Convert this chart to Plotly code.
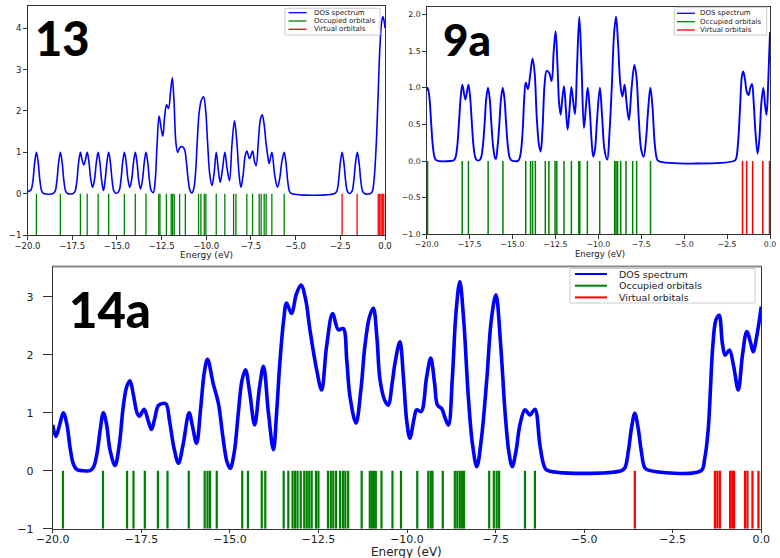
import plotly.graph_objects as go

W, H = 780, 558

# ---------------- data: panel "13" ----------------
occ13 = [-19.50, -18.16, -17.04, -16.66, -16.05, -15.46, -14.58, -13.97, -13.37,
         -12.66, -12.59, -12.23, -11.96, -11.88, -11.79, -11.49, -11.17, -10.43,
         -10.30, -10.11, -10.02, -9.44, -8.96, -8.47, -8.34, -7.73, -7.41, -7.04,
         -6.93, -6.76, -6.65, -6.33, -5.64]
virt13 = [-2.40, -1.56, -0.38, -0.30, -0.22, -0.15, -0.07]
dos13_e = [-20.0, -19.9, -19.8, -19.7, -19.6, -19.5, -19.4, -19.3, -19.2, -19.1,
           -18.6, -18.46, -18.36, -18.26, -18.16, -18.06, -17.96, -17.86, -17.76,
           -17.5, -17.44, -17.34, -17.24, -17.14, -17.04, -16.95, -16.85, -16.76,
           -16.66, -16.56, -16.46, -16.36, -16.25, -16.15, -16.05, -15.95, -15.85,
           -15.75, -15.66, -15.56, -15.46, -15.36, -15.26, -15.16, -15.03, -14.88,
           -14.78, -14.68, -14.58, -14.48, -14.38, -14.28, -14.17, -14.07, -13.97,
           -13.87, -13.78, -13.68, -13.57, -13.47, -13.37, -13.27, -13.17, -13.07,
           -12.96, -12.86, -12.75, -12.64, -12.53, -12.43, -12.32, -12.22, -12.11,
           -12.0, -11.9, -11.8, -11.7, -11.6, -11.5, -11.4, -11.3, -11.2, -11.1,
           -11.0, -10.9, -10.8, -10.7, -10.6, -10.5, -10.4, -10.28, -10.15, -10.03,
           -9.92, -9.8, -9.68, -9.56, -9.44, -9.33, -9.22, -9.09, -8.96, -8.83,
           -8.70, -8.56, -8.42, -8.28, -8.16, -8.06, -7.94, -7.83, -7.73, -7.58,
           -7.41, -7.30, -7.21, -7.08, -6.97, -6.87, -6.77, -6.66, -6.57, -6.48,
           -6.33, -6.17, -6.02, -5.9, -5.76, -5.64, -5.54, -5.44, -5.34, -5.24,
           -2.85, -2.70, -2.60, -2.50, -2.40, -2.30, -2.20, -2.10, -2.0, -1.85,
           -1.75, -1.65, -1.55, -1.45, -1.35, -1.25, -1.15, -0.85, -0.72, -0.62,
           -0.5, -0.4, -0.3, -0.2, -0.12, -0.04, 0.0]
dos13_v = [0.05, 0.07, 0.1, 0.3, 0.75, 1.0, 0.75, 0.3, 0.06, 0.01,
           0.0, 0.06, 0.3, 0.75, 1.0, 0.75, 0.3, 0.06, 0.01,
           0.0, 0.01, 0.06, 0.3, 0.76, 1.0, 0.82, 0.7, 0.82,
           1.0, 0.76, 0.35, 0.16, 0.35, 0.76, 1.0, 0.75, 0.32,
           0.08, 0.32, 0.75, 1.0, 0.75, 0.3, 0.06, 0.01, 0.07,
           0.3, 0.75, 1.0, 0.76, 0.35, 0.16, 0.35, 0.76, 1.0,
           0.75, 0.33, 0.12, 0.33, 0.75, 1.0, 0.75, 0.3, 0.07,
           0.03, 0.3, 1.2, 1.88, 1.6, 1.39, 1.9, 2.15, 2.06,
           2.45, 2.8, 2.2, 1.25, 1.0, 1.1, 1.14, 1.13, 1.05, 0.72,
           0.3, 0.07, 0.02, 0.12, 0.5, 1.3, 1.95, 2.25, 2.34, 2.0,
           1.2, 0.45, 0.2, 0.5, 1.0, 0.6, 0.28, 0.6, 1.0, 0.6,
           0.32, 1.2, 1.76, 1.2, 0.45, 0.16, 0.45, 0.9, 1.03, 0.85,
           1.03, 0.78, 0.68, 1.3, 1.8, 1.91, 1.7, 1.25, 0.95, 0.73,
           1.0, 0.45, 0.16, 0.35, 0.8, 1.0, 0.75, 0.3, 0.06, 0.01,
           0.0, 0.06, 0.3, 0.75, 1.0, 0.75, 0.3, 0.06, 0.01, 0.06,
           0.3, 0.75, 1.0, 0.75, 0.3, 0.06, 0.01, 0.0, 0.05, 0.3,
           1.1, 2.2, 3.4, 4.1, 4.28, 4.15, 4.0]

# ---------------- data: panel "9a" ----------------
occ9a = [-19.95, -17.93, -17.57, -16.42, -15.56, -14.23, -13.95, -13.83, -13.67,
         -13.09, -12.88, -12.52, -12.42, -12.00, -11.57, -11.14, -11.08, -10.64,
         -9.92, -9.05, -8.97, -8.88, -8.70, -8.39, -8.00, -7.77, -6.96]
virt9a = [-1.60, -1.36, -1.01, -0.42, -0.03]
dos9a_e = [-20.0, -19.94, -19.84, -19.74, -19.64, -19.54, -19.44, -18.6, -18.42,
           -18.32, -18.22, -18.12, -18.02, -17.92, -17.75, -17.57, -17.47, -17.37,
           -17.27, -17.17, -17.07, -16.93, -16.83, -16.73, -16.63, -16.53, -16.43,
           -16.33, -16.23, -16.13, -16.02, -15.97, -15.87, -15.77, -15.67, -15.57,
           -15.47, -15.37, -15.27, -15.17, -15.07, -14.7, -14.6, -14.5, -14.4,
           -14.32, -14.23, -14.1, -13.96, -13.83, -13.71, -13.59, -13.46, -13.36,
           -13.25, -13.13, -13.01, -12.86, -12.72, -12.6, -12.49, -12.38, -12.29,
           -12.2, -12.1, -12.0, -11.89, -11.79, -11.68, -11.57, -11.46, -11.36,
           -11.24, -11.11, -10.98, -10.84, -10.72, -10.62, -10.5, -10.4, -10.3,
           -10.2, -10.08, -9.91, -9.78, -9.64, -9.48, -9.36, -9.22, -9.08, -8.97,
           -8.85, -8.72, -8.6, -8.47, -8.36, -8.22, -8.06, -7.9, -7.78, -7.65,
           -7.5, -7.36, -7.22, -7.1, -6.97, -6.85, -6.72, -6.6, -6.5, -2.1, -1.98,
           -1.86, -1.75, -1.64, -1.56, -1.46, -1.36, -1.25, -1.15, -1.05, -0.95,
           -0.85, -0.72, -0.62, -0.5, -0.39, -0.28, -0.2, -0.1, 0.0]
dos9a_v = [0.96, 1.0, 0.86, 0.52, 0.2, 0.05, 0.01, 0.0, 0.01,
           0.05, 0.2, 0.52, 0.87, 1.04, 0.84, 1.04, 0.87, 0.52,
           0.2, 0.05, 0.01, 0.01, 0.05, 0.2, 0.5, 0.85, 1.0,
           0.85, 0.5, 0.2, 0.04, 0.03, 0.2, 0.5, 0.85, 1.0,
           0.85, 0.5, 0.2, 0.05, 0.01, 0.0, 0.03, 0.15, 0.45,
           0.85, 1.07, 0.98, 1.2, 1.40, 1.2, 0.6, 0.22, 0.13,
           0.45, 1.05, 1.23, 1.20, 1.09, 1.5, 1.77, 1.3, 0.8,
           0.63, 0.85, 1.02, 0.7, 0.43, 0.7, 1.01, 0.8, 0.64,
           1.3, 1.97, 1.3, 0.45, 0.75, 1.0, 0.7, 0.3, 0.06,
           0.15, 0.55, 1.0, 0.6, 0.15, 0.02, 0.35, 1.0, 1.75, 1.97,
           1.6, 1.05, 0.88, 1.04, 0.8, 0.56, 1.0, 1.31, 1.15, 0.6,
           0.15, 0.06, 0.3, 0.7, 1.0, 0.75, 0.25, 0.04, 0.0, 0.0, 0.03,
           0.25, 0.7, 1.15, 1.22, 1.12, 0.95, 0.9, 1.0, 1.05, 0.8,
           0.4, 0.1, 0.3, 0.8, 1.0, 0.75, 0.63, 1.1, 1.76]

# ---------------- data: panel "14a" ----------------
occ14a = [-19.71, -18.58, -17.90, -17.72, -17.40, -17.03, -16.76, -16.16, -15.71,
          -15.63, -15.56, -15.37, -14.65, -14.49, -14.10, -14.00, -13.48, -13.35,
          -13.23, -13.16, -13.09, -13.00, -12.90, -12.83, -12.76, -12.69, -12.57,
          -12.50, -12.23, -12.15, -12.08, -12.00, -11.89, -11.81, -11.74, -11.66,
          -11.28, -11.05, -10.99, -10.93, -10.88, -10.72, -10.41, -10.17, -9.71,
          -9.40, -9.33, -9.28, -8.99, -8.65, -8.58, -8.51, -8.45, -8.39, -7.68,
          -7.55, -7.47, -7.40, -6.67, -6.39]
virt14a = [-3.57, -1.31, -1.24, -1.17, -0.88, -0.82, -0.77, -0.46, -0.39, -0.25, -0.08]
dos14a_e = [-20.0, -19.91, -19.8, -19.7, -19.6, -19.51, -19.42, -19.32, -19.15, -18.95,
            -18.85, -18.75, -18.66, -18.57, -18.48, -18.38, -18.24, -18.12, -18.01,
            -17.91, -17.82, -17.72, -17.62, -17.55, -17.42, -17.3, -17.21, -17.12,
            -17.02, -16.9, -16.8, -16.7, -16.58, -16.45, -16.32, -16.15, -16.05,
            -15.94, -15.82, -15.72, -15.63, -15.47, -15.32, -15.2, -15.08, -14.99,
            -14.88, -14.76, -14.66, -14.56, -14.44, -14.3, -14.16, -14.05, -13.91,
            -13.77, -13.68, -13.59, -13.48, -13.4, -13.26, -13.12, -12.99, -12.86,
            -12.74, -12.55, -12.41, -12.27, -12.1, -11.94, -11.8, -11.7, -11.61,
            -11.44, -11.3, -11.19, -11.06, -10.95, -10.85, -10.76, -10.62, -10.53,
            -10.42, -10.34, -10.2, -10.1, -10.01, -9.92, -9.8, -9.73, -9.6, -9.45,
            -9.33, -9.22, -9.14, -9.02, -8.92, -8.83, -8.72, -8.62, -8.51, -8.4,
            -8.27, -8.15, -8.03, -7.9, -7.75, -7.62, -7.49, -7.36, -7.23, -7.12,
            -7.03, -6.92, -6.81, -6.67, -6.53, -6.39, -6.25, -6.14, -6.05, -3.95,
            -3.85, -3.75, -3.66, -3.57, -3.48, -3.39, -3.29, -3.19, -1.7, -1.6,
            -1.5, -1.37, -1.28, -1.19, -1.1, -1.02, -0.9, -0.78, -0.65, -0.53,
            -0.41, -0.3, -0.23, -0.12, 0.0]
dos14a_v = [0.79, 0.59, 0.8, 1.0, 0.8, 0.4, 0.12, 0.02, 0.0, 0.0,
            0.06, 0.3, 0.7, 1.0, 0.8, 0.35, 0.09, 0.45, 1.1,
            1.45, 1.55, 1.3, 1.0, 0.94, 1.06, 0.85, 0.71, 0.9,
            1.12, 1.16, 1.15, 0.85, 0.4, 0.13, 0.45, 1.0, 0.75,
            0.47, 1.1, 1.7, 1.92, 1.5, 1.15, 0.6, 0.15, 0.04,
            0.3, 1.0, 1.55, 1.74, 1.35, 0.79, 1.45, 1.8, 0.99,
            0.36, 1.0, 1.85, 2.6, 2.89, 2.71, 3.05, 3.2, 2.95,
            2.43, 1.74, 1.39, 2.14, 2.71, 2.43, 2.45, 1.9, 1.28,
            0.82, 1.4, 2.14, 2.65, 2.8, 2.3, 1.56, 1.2, 1.13,
            1.5, 1.85, 2.22, 1.6, 0.87, 0.56, 0.9, 1.05, 1.02, 1.6,
            1.94, 1.5, 1.13, 1.07, 0.9, 0.79, 1.6, 2.7, 3.26, 2.6,
            1.28, 0.45, 0.07, 0.55, 1.56, 2.6, 3.03, 2.2, 0.99, 0.3,
            0.07, 0.35, 0.8, 1.05, 0.96, 1.06, 0.45, 0.1, 0.01, 0.0,
            0.05, 0.35, 0.75, 0.99, 0.75, 0.35, 0.05, 0.01, 0.0, 0.2,
            0.7, 2.14, 2.6, 2.68, 2.2, 1.99, 2.08, 1.8, 1.39, 2.0,
            2.4, 2.2, 2.05, 2.35, 2.83]

legend_labels = ["DOS spectrum", "Occupied orbitals", "Virtual orbitals"]
panel_titles = ["13", "9a", "14a"]
x_ticks = [-20.0, -17.5, -15.0, -12.5, -10.0, -7.5, -5.0, -2.5, 0.0]

BLUE, GREEN, RED = "#0000ff", "#008000", "#ff0000"


def px(x):
    return x / W


def py(y):
    return 1 - y / H


def sticks(energies):
    xs, ys = [], []
    for e in energies:
        xs += [e, e, None]
        ys += [-1, 0, None]
    return xs, ys


fig = go.Figure()

panels = [
    ("", dos13_e, dos13_v, occ13, virt13, 1.6, 1.3),
    ("2", dos9a_e, dos9a_v, occ9a, virt9a, 1.9, 1.5),
    ("3", dos14a_e, dos14a_v, occ14a, virt14a, 3.6, 2.2),
]
for sfx, de, dv, occ, virt, lw, sw in panels:
    xa, ya = "x" + sfx, "y" + sfx
    fig.add_trace(go.Scatter(x=de, y=dv, mode="lines", xaxis=xa, yaxis=ya,
                             line=dict(color=BLUE, width=lw, shape="spline", smoothing=1.0),
                             showlegend=False, hoverinfo="skip"))
    gx, gy = sticks(occ)
    fig.add_trace(go.Scatter(x=gx, y=gy, mode="lines", xaxis=xa, yaxis=ya,
                             line=dict(color=GREEN, width=sw), showlegend=False,
                             hoverinfo="skip"))
    rx, ry = sticks(virt)
    fig.add_trace(go.Scatter(x=rx, y=ry, mode="lines", xaxis=xa, yaxis=ya,
                             line=dict(color=RED, width=sw), showlegend=False,
                             hoverinfo="skip"))

TICKFONT_S = dict(family="DejaVu Sans", size=8.5, color="#222")
TICKFONT_L = dict(family="DejaVu Sans", size=11, color="#222")


def xax(domain, font, ticklen, standoff=0):
    return dict(domain=domain, range=[-20, 0], tickvals=x_ticks, tickformat=".1f",
                ticks="outside", ticklen=ticklen, tickwidth=1, tickcolor="#333",
                showline=True, mirror=True, linecolor="#333", linewidth=1,
                showgrid=False, zeroline=False, tickfont=font, automargin=False,
                ticklabelstandoff=standoff)


def yax(domain, rng, tickvals, fmt, font, ticklen, standoff=0):
    return dict(domain=domain, range=rng, tickvals=tickvals, tickformat=fmt,
                ticks="outside", ticklen=ticklen, tickwidth=1, tickcolor="#333",
                showline=True, mirror=True, linecolor="#333", linewidth=1,
                showgrid=False, zeroline=False, tickfont=font, automargin=False,
                ticklabelstandoff=standoff)


fig.update_layout(
    width=W, height=H, margin=dict(l=0, r=0, t=0, b=0, autoexpand=False),
    paper_bgcolor="white", plot_bgcolor="white", showlegend=False,
    xaxis=dict(xax([px(27.5), px(385)], TICKFONT_S, 3.5, -1), anchor="y"),
    yaxis=dict(yax([py(235.3), py(5.7)], [-1, 4.54], [-1, 0, 1, 2, 3, 4], "d",
                   TICKFONT_S, 3.5), anchor="x"),
    xaxis2=dict(xax([px(426.7), px(770)], dict(TICKFONT_S, size=7.8), 3.5, -1), anchor="y2"),
    yaxis2=dict(yax([py(234.3), py(6.7)], [-1, 2.105], [-1, -0.5, 0, 0.5, 1, 1.5, 2],
                    ".1f", dict(TICKFONT_S, size=7.8), 3.5), anchor="x2"),
    xaxis3=dict(xax([px(52.7), px(761.3)], TICKFONT_L, 3.5, -3), anchor="y3"),
    yaxis3=dict(yax([py(528.7), py(266.5)], [-1, 3.52], [-1, 0, 1, 2, 3], "d",
                    TICKFONT_L, 9, 7), anchor="x3"),
)

shapes = []
annotations = []

# gray border line on top of the lower picture
shapes.append(dict(type="line", xref="paper", yref="paper", x0=px(52.7), x1=px(761.5),
                   y0=py(266.5), y1=py(266.5), line=dict(color="#8a8a8a", width=2)))

# manual legends
legends = [
    (285, 380, 8.3, 35, 288.5, 306.5, 312, [12.7, 21.0, 29.3], 7, 1.3),
    (674.3, 766.7, 7.3, 35, 677, 695, 698.3, [13.3, 21.7, 30.0], 7, 1.3),
    (570, 755, 268.5, 303, 575, 607, 617, [274.0, 285.7, 297.4], 9.5, 2.0),
]
for bx0, bx1, by0, by1, lx0, lx1, tx, rows, fs, lw in legends:
    shapes.append(dict(type="rect", xref="paper", yref="paper", x0=px(bx0), x1=px(bx1),
                       y0=py(by1), y1=py(by0), fillcolor="rgba(255,255,255,0.85)",
                       line=dict(color="#cccccc", width=1)))
    for label, color, ry in zip(legend_labels, [BLUE, GREEN, RED], rows):
        shapes.append(dict(type="line", xref="paper", yref="paper", x0=px(lx0), x1=px(lx1),
                           y0=py(ry), y1=py(ry), line=dict(color=color, width=lw)))
        annotations.append(dict(x=px(tx), y=py(ry), xref="paper", yref="paper",
                                text=label, showarrow=False, xanchor="left",
                                yanchor="middle",
                                font=dict(family="DejaVu Sans", size=fs, color="#222")))

# axis titles
for x, y, fs in [(206.5, 255.0, 9), (600, 254.0, 8.5), (406.7, 551.5, 12)]:
    annotations.append(dict(x=px(x), y=py(y), xref="paper", yref="paper",
                            text="Energy (eV)", showarrow=False, xanchor="center",
                            yanchor="middle",
                            font=dict(family="DejaVu Sans", size=fs, color="#222")))

# big panel labels
for t, x, y, fs in zip(panel_titles, [62.3, 467.3, 110.0], [37.8, 39.0, 309.2], [47, 44, 49]):
    annotations.append(dict(x=px(x), y=py(y), xref="paper", yref="paper", text=t,
                            showarrow=False, xanchor="center", yanchor="middle",
                            font=dict(family="Lato", size=fs, color="black", weight=900)))

fig.update_layout(shapes=shapes, annotations=annotations)
fig.write_html("out.html", config={"displayModeBar": False},
               post_script="document.body.style.margin='0';")
